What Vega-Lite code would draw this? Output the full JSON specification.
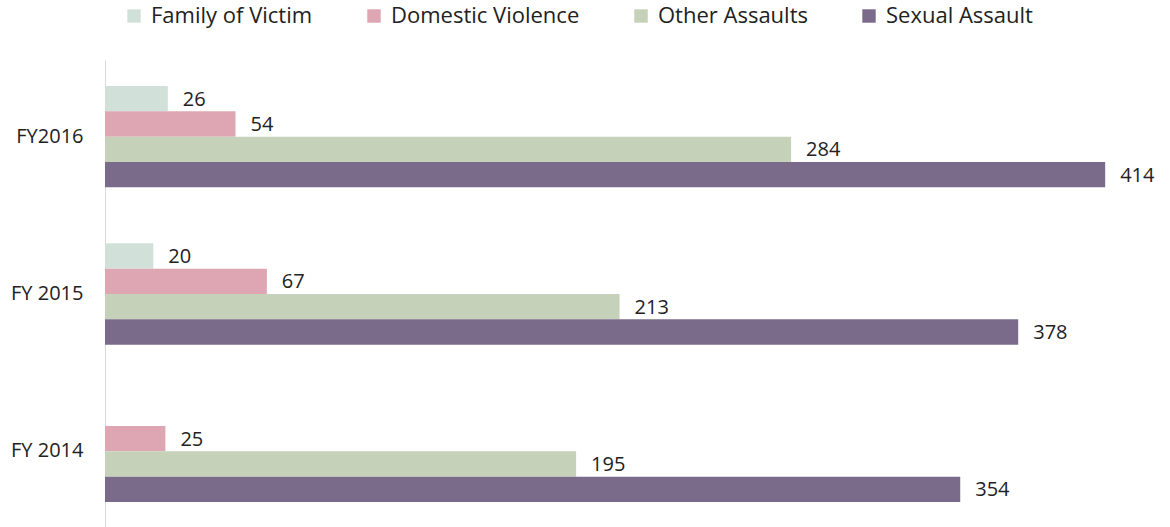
{
  "$schema": "https://vega.github.io/schema/vega-lite/v6.json",
  "autosize": {"type": "none"},
  "padding": {"left": 105, "top": 60, "right": 0, "bottom": 0},
  "width": 1063,
  "height": 468,
  "background": "white",
  "config": {
    "view": {"stroke": null},
    "font": "Open Sans"
  },
  "data": {
    "values": [
      {"year": "FY2016", "type": "Family of Victim", "value": 26},
      {"year": "FY2016", "type": "Domestic Violence", "value": 54},
      {"year": "FY2016", "type": "Other Assaults", "value": 284},
      {"year": "FY2016", "type": "Sexual Assault", "value": 414},
      {"year": "FY 2015", "type": "Family of Victim", "value": 20},
      {"year": "FY 2015", "type": "Domestic Violence", "value": 67},
      {"year": "FY 2015", "type": "Other Assaults", "value": 213},
      {"year": "FY 2015", "type": "Sexual Assault", "value": 378},
      {"year": "FY 2014", "type": "Domestic Violence", "value": 25},
      {"year": "FY 2014", "type": "Other Assaults", "value": 195},
      {"year": "FY 2014", "type": "Sexual Assault", "value": 354}
    ]
  },
  "encoding": {
    "y": {
      "field": "year",
      "type": "nominal",
      "sort": ["FY2016", "FY 2015", "FY 2014"],
      "scale": {"domain": ["FY2016", "FY 2015", "FY 2014"], "paddingInner": 0.356, "paddingOuter": 0.165},
      "axis": {
        "title": null,
        "domain": true,
        "domainColor": "#d9d9d9",
        "domainWidth": 1,
        "ticks": false,
        "grid": false,
        "labelFontSize": 20,
        "labelColor": "#222222",
        "labelPadding": 22,
        "labelFont": "Open Sans"
      }
    },
    "yOffset": {
      "field": "type",
      "type": "nominal",
      "scale": {"domain": ["Family of Victim", "Domestic Violence", "Other Assaults", "Sexual Assault"], "paddingInner": 0, "paddingOuter": 0}
    },
    "x": {
      "field": "value",
      "type": "quantitative",
      "scale": {"domain": [0, 440], "nice": false, "zero": true},
      "axis": null
    }
  },
  "layer": [
    {
      "mark": {"type": "bar", "cornerRadius": 0},
      "encoding": {
        "color": {
          "field": "type",
          "type": "nominal",
          "scale": {
            "domain": ["Family of Victim", "Domestic Violence", "Other Assaults", "Sexual Assault"],
            "range": ["#d2e0da", "#dea6b2", "#c6d1ba", "#7b6b8b"]
          },
          "legend": {
            "title": null,
            "orient": "none",
            "legendX": 18,
            "legendY": -55,
            "direction": "horizontal",
            "symbolType": "square",
            "symbolSize": 180,
            "symbolStrokeWidth": 0,
            "labelFontSize": 22,
            "labelLimit": 0,
            "labelFont": "Open Sans",
            "labelColor": "#222222",
            "labelOffset": 6,
            "columnPadding": 50
          }
        }
      }
    },
    {
      "mark": {"type": "text", "align": "left", "baseline": "middle", "dx": 15, "dy": 1, "fontSize": 20, "font": "Open Sans", "color": "#222222"},
      "encoding": {
        "text": {"field": "value", "type": "quantitative"}
      }
    }
  ]
}
